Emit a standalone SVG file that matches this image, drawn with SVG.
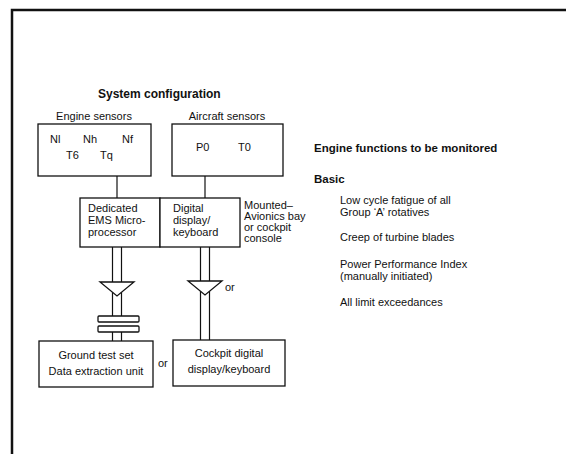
<svg xmlns="http://www.w3.org/2000/svg" width="566" height="454" viewBox="0 0 566 454">
<style>
text{font-family:"Liberation Sans",Arial,sans-serif;font-size:11px;fill:#111}
.b{font-weight:bold;font-size:11.5px}
.t{font-weight:bold;font-size:12px}
.c{text-anchor:middle}
.box{fill:#fff;stroke:#111;stroke-width:1.3}
.ln{stroke:#111;stroke-width:1.2;fill:none}
.tri{fill:#fff;stroke:#111;stroke-width:1.3;stroke-linejoin:miter}
</style>
<rect width="566" height="454" fill="#fff"/>
<path d="M12,454 V10 H566" fill="none" stroke="#111" stroke-width="2.5"/>
<text class="t" x="98" y="98">System configuration</text>

<g id="connectors">
<line class="ln" x1="117" y1="176" x2="117" y2="198"/>
<line class="ln" x1="205" y1="176" x2="205" y2="198"/>
<path class="ln" d="M112.5,247 V316 M121.5,247 V316 M112.5,332 V341 M121.5,332 V341"/>
<polygon class="tri" points="100,282 134,282 117,296"/>
<rect class="box" x="98" y="316" width="41" height="6" rx="1"/>
<rect class="box" x="98" y="326" width="41" height="6" rx="1"/>
<path class="ln" d="M200.5,247 V340 M209.5,247 V340"/>
<polygon class="tri" points="188,281 222,281 205,295"/>
<text x="225" y="291">or</text>
<text x="158" y="367">or</text>
</g>

<g id="engine-sensors">
<text class="c" x="94" y="120">Engine sensors</text>
<rect class="box" x="38" y="124" width="113" height="52"/>
<text x="50" y="143">Nl</text>
<text x="83" y="143">Nh</text>
<text x="122" y="143">Nf</text>
<text x="66" y="159">T6</text>
<text x="100" y="159">Tq</text>
</g>

<g id="aircraft-sensors">
<text class="c" x="227" y="120">Aircraft sensors</text>
<rect class="box" x="172" y="124" width="111" height="52"/>
<text x="196" y="151">P0</text>
<text x="238" y="151">T0</text>
</g>

<g id="processor">
<rect class="box" x="80" y="198" width="80" height="49"/>
<text x="88" y="212">Dedicated</text>
<text x="88" y="224">EMS Micro-</text>
<text x="88" y="236">processor</text>
</g>

<g id="digital-display">
<rect class="box" x="160" y="198" width="80" height="49"/>
<text x="173" y="212">Digital</text>
<text x="173" y="224">display/</text>
<text x="173" y="236">keyboard</text>
<text x="244" y="209">Mounted–</text>
<text x="244" y="220">Avionics bay</text>
<text x="244" y="231">or cockpit</text>
<text x="244" y="242">console</text>
</g>

<g id="ground-test-set">
<rect class="box" x="39" y="341" width="114" height="46"/>
<text class="c" x="96" y="359">Ground test set</text>
<text class="c" x="96" y="375">Data extraction unit</text>
</g>

<g id="cockpit-display">
<rect class="box" x="173" y="340" width="112" height="46"/>
<text class="c" x="229" y="357">Cockpit digital</text>
<text class="c" x="229" y="373">display/keyboard</text>
</g>

<g id="functions">
<text class="b" x="314" y="152">Engine functions to be monitored</text>
<text class="b" x="314" y="183">Basic</text>
<text x="340" y="204">Low cycle fatigue of all</text>
<text x="340" y="216">Group ‘A’ rotatives</text>
<text x="340" y="241">Creep of turbine blades</text>
<text x="340" y="268">Power Performance Index</text>
<text x="340" y="280">(manually initiated)</text>
<text x="340" y="306">All limit exceedances</text>
</g>
</svg>
